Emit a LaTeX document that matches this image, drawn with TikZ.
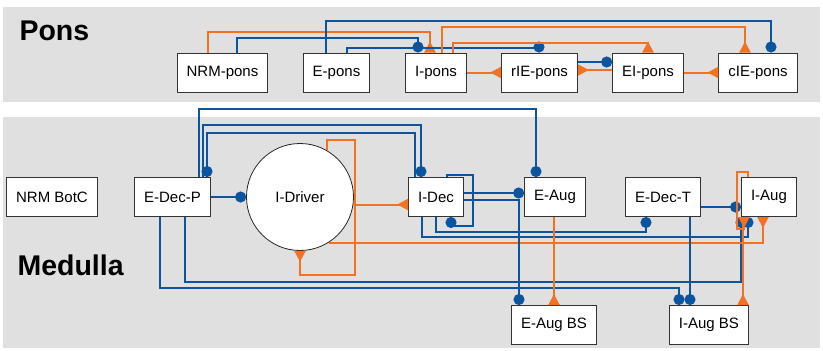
\documentclass[tikz,border=0pt]{standalone}
\usepackage{fontspec}
\setmainfont{Liberation Sans}
\usetikzlibrary{arrows.meta}
\definecolor{wireblue}{RGB}{12,84,158}
\definecolor{wireorange}{RGB}{242,114,36}
\definecolor{panelgray}{RGB}{224,224,224}

\begin{document}
\begin{tikzpicture}[x=1pt, y=-1pt,
    unit/.style={draw=black!80, fill=white, line width=1pt, font=\fontsize{15}{17}\selectfont, minimum height=39, inner xsep=9.5},
    inh/.style={wireblue, line width=2pt, -{Circle[length=11pt, width=11pt]}},
    exc/.style={wireorange, line width=2pt, -{Triangle[reversed, length=11pt, width=11pt]}},
    title/.style={font=\fontsize{28.5}{30}\selectfont\bfseries, anchor=west}]
    \useasboundingbox (0,0) rectangle (823,351);

    % Panels
    \fill[panelgray] (3,7) rectangle (820,102);
    \fill[panelgray] (3,117) rectangle (820,348);
    \node[title] (pons) at (16,31) {Pons};
    \node[title] (medulla) at (14,265) {Medulla};

    % Pons units
    \node[unit] (nrmp) at (222.5,72.5) {NRM-pons};
    \node[unit] (ep) at (336.5,72.5) {E-pons};
    \node[unit] (ip) at (436,72.5) {I-pons};
    \node[unit] (rie) at (539.5,72.5) {rIE-pons};
    \node[unit] (ei) at (648,72.5) {EI-pons};
    \node[unit] (cie) at (758,72.5) {cIE-pons};

    % Medulla units
    \node[unit] (nrmb) at (52,197) {NRM BotC};
    \node[unit] (edp) at (172.5,197) {E-Dec-P};
    \node[draw=black!85, fill=white, circle, minimum size=107, line width=0.8pt,
          font=\fontsize{15}{17}\selectfont] (drv) at (300,197) {I-Driver};
    \node[unit] (idec) at (436,197) {I-Dec};
    \node[unit] (eaug) at (555,197) {E-Aug};
    \node[unit] (edt) at (663,197) {E-Dec-T};
    \node[unit] (iaug) at (769,197) {I-Aug};
    \node[unit] (eabs) at (554,325) {E-Aug BS};
    \node[unit] (iabs) at (709,325) {I-Aug BS};

    % Pons connections
    \draw[exc] (208,0 |- nrmp.north) |- (430,32) -- (430,0 |- ip.north);
    \draw[inh] (237,0 |- nrmp.north) |- (418,38) -- (418,0 |- ip.north);
    \draw[inh] (326,0 |- ep.north) |- (771,21) -- (771,0 |- cie.north);
    \draw[inh] (347,0 |- ep.north) |- (539,48) -- (539,0 |- rie.north);
    \draw[exc] (442,0 |- ip.north) |- (745,27) -- (745,0 |- cie.north);
    \draw[exc] (453,0 |- ip.north) |- (648,43) -- (648,0 |- ei.north);
    \draw[exc] (ip.east) -- (rie.west);
    \draw[exc] (ei.west |- 0,70) -- (rie.east |- 0,70);
    \draw[inh] (rie.east |- 0,62) -- (ei.west |- 0,62);
    \draw[exc] (ei.east) -- (cie.west);

    % Medulla connections
    \draw[inh] (199,0 |- edp.north) |- (536,109) -- (536,0 |- eaug.north);
    \draw[inh] (203,0 |- edp.north) |- (421,125) -- (421,0 |- idec.north);
    \draw[inh] (415,0 |- idec.north) |- (207,133) -- (207,0 |- edp.north);
    \draw[inh] (edp.east) -- (drv.west);
    \draw[inh] (160,0 |- edp.south) |- (679,288) -- (679,0 |- iabs.north);
    \draw[inh] (185,0 |- edp.south) |- (741,282) -- (741,0 |- iaug.south);
    \draw[exc] (drv.60) |- (355,140) |- (drv.south |- 0,275) -- (drv.south);
    \draw[exc] (drv.-8) -- (drv.-8 -| idec.west);
    \draw[exc] (drv.-58) -| (763,0 |- iaug.south);
    \draw[inh] (idec.east |- 0,193) -- (eaug.west |- 0,193);
    \draw[inh] (idec.east |- 0,200) -| (519,0 |- eabs.north);
    \draw[inh] (447,0 |- idec.north) |- (473,175) |- (451,226) -- (451,0 |- idec.south);
    \draw[inh] (436,0 |- idec.south) |- (646,232) -- (646,0 |- edt.south);
    \draw[inh] (422,0 |- idec.south) |- (748,237) -- (748,0 |- iaug.south);
    \draw[exc] (554,0 |- eaug.south) -- (554,0 |- eabs.north);
    \draw[inh] (edt.east |- 0,207) -- (iaug.west |- 0,207);
    \draw[inh] (690,0 |- edt.south) -- (690,0 |- iabs.north);
    \draw[exc] (748,0 |- iaug.north) |- (737,172) |- (744,229) -- (744,0 |- iaug.south);
    \draw[exc] (743,0 |- iaug.south) -- (743,0 |- iabs.north);
\end{tikzpicture}
\end{document}
